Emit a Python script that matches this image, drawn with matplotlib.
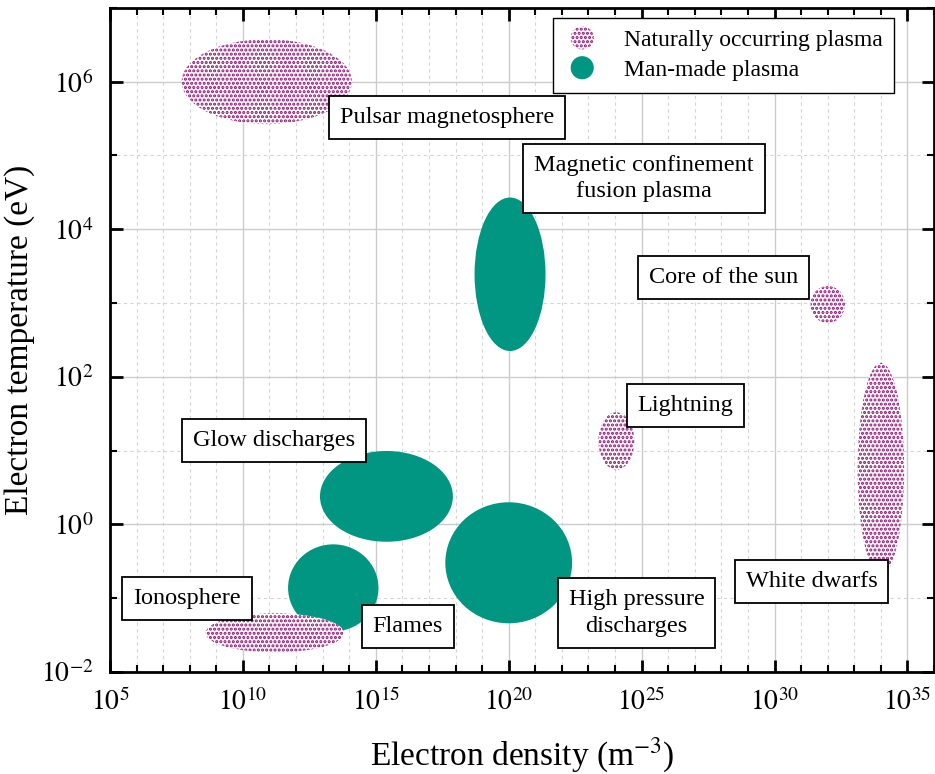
import matplotlib.pyplot as plt
from matplotlib.patches import Ellipse, Circle
from matplotlib.legend_handler import HandlerPatch

plt.rcParams['font.family'] = ['Liberation Serif', 'DejaVu Serif']
plt.rcParams['mathtext.fontset'] = 'stix'
plt.rcParams['hatch.linewidth'] = 1.5

NAT = '#950c74'
MAN = '#009682'

# ellipses: name, log10 density centre, log10 temperature centre, width (decades), height (decades), kind
names = ['Pulsar', 'MCF', 'Sun core', 'Lightning', 'White dwarfs',
         'Glow', 'High pressure', 'Flames', 'Ionosphere']
log_n = [10.9, 20.05, 32.0, 24.05, 34.0, 15.4, 20.0, 13.4, 11.2]
log_T = [6.0, 3.39, 2.98, 1.13, 0.75, 0.38, -0.52, -0.86, -1.47]
w_dec = [6.4, 2.67, 1.3, 1.35, 1.75, 5.0, 4.77, 3.4, 5.2]
h_dec = [1.15, 2.08, 0.5, 0.78, 2.88, 1.23, 1.64, 1.18, 0.53]
kind = ['nat', 'man', 'nat', 'nat', 'nat', 'man', 'man', 'man', 'nat']

# text labels
lab_text = ['Pulsar magnetosphere', 'Magnetic confinement\nfusion plasma', 'Core of the sun',
            'Lightning', 'Glow discharges', 'White dwarfs', 'High pressure\ndischarges',
            'Ionosphere', 'Flames']
lab_x = [17.67, 25.08, 28.08, 26.65, 11.17, 31.39, 24.81, 7.9, 16.2]
lab_y = [5.51, 4.69, 3.35, 1.61, 1.14, -0.77, -1.2, -1.0, -1.38]

x_major = [5, 10, 15, 20, 25, 30, 35]
y_major = [-2, 0, 2, 4, 6]

fig = plt.figure(figsize=(9.35, 7.74), dpi=100)
ax = fig.add_axes([0.1176, 0.1318, 0.8814, 0.858])


def make_patch(k, xy, w, h):
    if k == 'nat':
        return Ellipse(xy, w, h, facecolor='white', edgecolor=NAT, hatch='....', lw=0, zorder=3)
    return Ellipse(xy, w, h, facecolor=MAN, edgecolor='none', lw=0, zorder=3)


for i in range(len(names)):
    ax.add_patch(make_patch(kind[i], (log_n[i], log_T[i]), w_dec[i], h_dec[i]))

for i in range(len(lab_text)):
    ax.text(lab_x[i], lab_y[i], lab_text[i], ha='center', va='center', fontsize=17.5,
            linespacing=1.35, zorder=5,
            bbox=dict(boxstyle='square,pad=0.45', facecolor='white', edgecolor='black', lw=1.3))

ax.set_xlim(5, 36)
ax.set_ylim(-2, 7)
ax.set_xticks(x_major)
ax.set_xticklabels([r'$10^{%d}$' % v for v in x_major])
ax.set_xticks(range(5, 37), minor=True)
ax.set_yticks(y_major)
ax.set_yticklabels([r'$10^{%d}$' % v for v in y_major])
ax.set_yticks(range(-2, 8), minor=True)
ax.tick_params(which='both', direction='in', top=True, right=True, labelsize=20, width=2)
ax.tick_params(which='major', length=9, pad=12)
ax.tick_params(which='minor', length=5, width=1.5)
ax.grid(which='major', color='#cccccc', lw=1, zorder=0)
ax.grid(which='minor', color='#d5d5d5', lw=0.8, ls=(0, (3, 3)), zorder=0)
ax.set_axisbelow(True)
for s in ax.spines.values():
    s.set_linewidth(2)

ax.set_xlabel(r'Electron density (m$^{-3}$)', fontsize=24, labelpad=14)
ax.set_ylabel('Electron temperature (eV)', fontsize=24, labelpad=4)


class CircleHandler(HandlerPatch):
    def create_artists(self, legend, orig, xd, yd, w, h, fontsize, trans):
        r = 0.7 * h
        c = Circle((w / 2 - xd, h / 2 - yd), r)
        self.update_prop(c, orig, legend)
        c.set_transform(trans)
        return [c]


h_nat = make_patch('nat', (0, 0), 1, 1)
h_man = make_patch('man', (0, 0), 1, 1)
ax.legend([h_nat, h_man], ['Naturally occurring plasma', 'Man-made plasma'],
          handler_map={Ellipse: CircleHandler()}, loc='upper right',
          bbox_to_anchor=(0.9515, 0.985), fontsize=17, fancybox=False, framealpha=1,
          edgecolor='black', handlelength=1.5, handletextpad=1.0, borderpad=0.5,
          borderaxespad=0, labelspacing=0.35).get_frame().set_linewidth(1)

fig.savefig('out.png', dpi=100)
